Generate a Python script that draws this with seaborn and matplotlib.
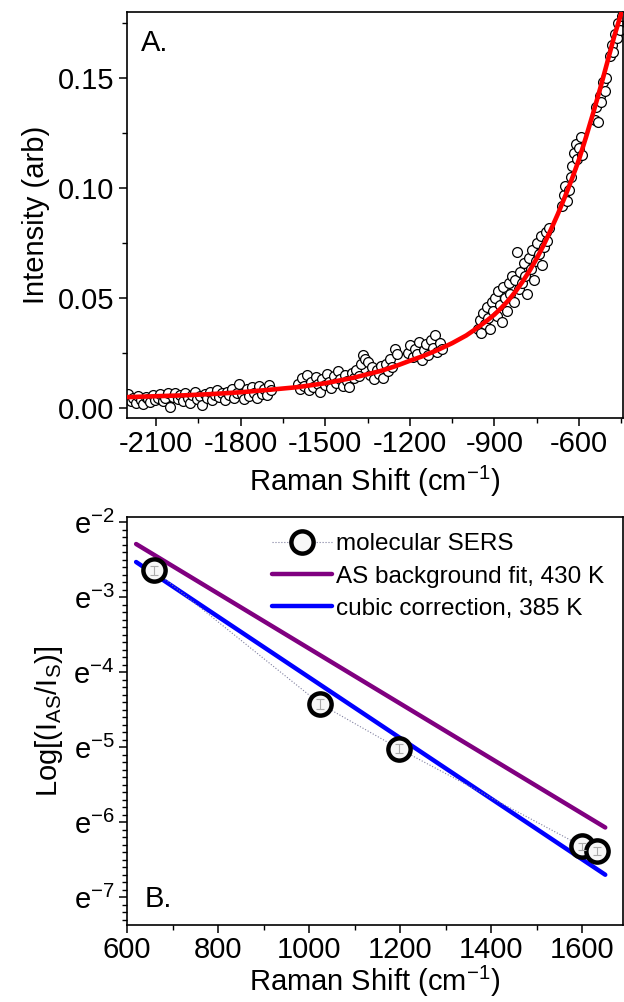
import numpy as np
import pandas as pd
import matplotlib
matplotlib.use('Agg')
import matplotlib.pyplot as plt
import matplotlib.ticker as mticker
import seaborn as sns

# ---------------- Panel A data ----------------
shift_a = [
    -2198, -2190, -2181, -2172, -2163, -2155, -2146, -2137, -2128, -2120,
    -2111, -2102, -2093, -2085, -2076, -2067, -2058, -2050, -2041, -2032,
    -2023, -2015, -2006, -1997, -1988, -1980, -1971, -1962, -1953, -1945,
    -1936, -1927, -1918, -1910, -1901, -1892, -1883, -1875, -1866, -1857,
    -1848, -1840, -1831, -1822, -1813, -1805, -1796, -1787, -1778, -1770,
    -1761, -1752, -1743, -1735, -1726, -1717, -1708, -1700, -1692,
    -1598, -1590, -1582, -1574, -1566, -1558, -1550, -1542, -1534, -1526,
    -1518, -1510, -1502, -1494, -1486, -1478, -1470, -1462, -1454, -1446,
    -1438, -1430, -1422, -1414, -1406, -1398, -1390, -1382, -1374, -1366,
    -1358, -1350, -1342, -1334, -1326, -1318, -1310, -1302, -1294, -1286,
    -1278, -1270, -1262, -1254, -1246,
    -1206, -1198, -1190, -1182, -1174, -1166, -1158, -1150, -1142, -1134,
    -1126, -1118, -1110, -1102, -1094, -1086,
    -958, -952, -946, -940, -934, -928, -922, -916, -910, -904,
    -898, -892, -886, -880, -874, -868, -862, -856, -850, -844,
    -838, -832, -826, -820, -814, -808, -802, -796, -790, -784,
    -778, -772, -766, -760, -754, -748, -742, -736, -730, -724,
    -718, -712, -706,
    -660, -654, -648, -642, -636, -630, -624, -618, -612, -606,
    -600, -594, -588,
    -545, -539, -533, -527, -521, -515, -509, -503,
    -490, -484, -478, -472, -466, -460, -454, -448,
]
intensity_a = [
    0.0065, 0.0030, 0.0045, 0.0025, 0.0055, 0.0035, 0.0020, 0.0050, 0.0040, 0.0028,
    0.0058, 0.0035, 0.0048, 0.0063, 0.0030, 0.0045, 0.0068, 0.0005, 0.0052, 0.0070,
    0.0040, 0.0058, 0.0032, 0.0068, 0.0045, 0.0022, 0.0060, 0.0075, 0.0040, 0.0055,
    0.0015, 0.0065, 0.0048, 0.0072, 0.0038, 0.0060, 0.0082, 0.0050, 0.0068, 0.0035,
    0.0075, 0.0058, 0.0088, 0.0045, 0.0070, 0.0110, 0.0062, 0.0040, 0.0085, 0.0055,
    0.0095, 0.0070, 0.0045, 0.0100, 0.0065, 0.0088, 0.0058, 0.0105, 0.0080,
    0.0110, 0.0085, 0.0135, 0.0100, 0.0150, 0.0080, 0.0120, 0.0095, 0.0140, 0.0110,
    0.0072, 0.0130, 0.0105, 0.0155, 0.0120, 0.0090, 0.0145, 0.0115, 0.0170, 0.0130,
    0.0100, 0.0150, 0.0125, 0.0095, 0.0160, 0.0135, 0.0175, 0.0145, 0.0200, 0.0240,
    0.0225, 0.0210, 0.0150, 0.0185, 0.0130, 0.0175, 0.0155, 0.0190, 0.0135, 0.0200,
    0.0170, 0.0225, 0.0185, 0.0270, 0.0245,
    0.0250, 0.0285, 0.0230, 0.0270, 0.0245, 0.0300, 0.0220, 0.0265, 0.0290, 0.0240,
    0.0310, 0.0275, 0.0330, 0.0255, 0.0295, 0.0270,
    0.036, 0.040, 0.034, 0.043, 0.038, 0.046, 0.041, 0.036, 0.048, 0.044,
    0.050, 0.042, 0.053, 0.047, 0.039, 0.055, 0.050, 0.044, 0.057, 0.052,
    0.060, 0.048, 0.058, 0.071, 0.054, 0.062, 0.057, 0.066, 0.060, 0.052,
    0.068, 0.063, 0.072, 0.058, 0.067, 0.075, 0.070, 0.078, 0.065, 0.073,
    0.080, 0.076, 0.082,
    0.092, 0.097, 0.101, 0.094, 0.099, 0.105, 0.110, 0.116, 0.120, 0.113,
    0.118, 0.123, 0.115,
    0.131, 0.137, 0.130, 0.142, 0.139, 0.148, 0.144, 0.150,
    0.160, 0.165, 0.162, 0.170, 0.168, 0.175, 0.172, 0.178,
]
fit_shift = [-2200, -2100, -2000, -1900, -1800, -1700, -1600, -1500, -1400,
             -1300, -1250, -1200, -1150, -1100, -1050, -1000, -975, -950, -925,
             -900, -875, -850, -825, -800, -775, -750, -725, -700,
             -675, -650, -625, -600, -575, -550, -525, -500, -475, -444]
fit_intensity = [0.0050, 0.0054, 0.0058, 0.0064, 0.0072, 0.0083, 0.0095, 0.0113,
                 0.0138, 0.0170, 0.0191, 0.0215, 0.0238, 0.0265, 0.0295, 0.0330,
                 0.0352, 0.0375, 0.0399, 0.0425, 0.0456, 0.0490, 0.0530, 0.0575,
                 0.0625, 0.0680, 0.0742, 0.0810, 0.0882, 0.0960, 0.1042, 0.1130,
                 0.1232, 0.1340, 0.1452, 0.1570, 0.1690, 0.1820]

# ---------------- Panel B data ----------------
sers_shift = [659, 1024, 1198, 1600, 1633]
sers_log = [-2.64, -4.42, -5.02, -6.32, -6.38]
sers_err = [0.06, 0.07, 0.06, 0.05, 0.05]
bg_shift = [620, 1651]
bg_log = [-2.29, -6.07]
cubic_shift = [620, 1651]
cubic_log = [-2.53, -6.70]

# ---------------- Style ----------------
sns.set_style('ticks')
plt.rcParams['font.family'] = ['Liberation Sans', 'DejaVu Sans']
plt.rcParams['mathtext.fontset'] = 'custom'
plt.rcParams['mathtext.rm'] = 'Liberation Sans'
plt.rcParams['mathtext.it'] = 'Liberation Sans:italic'
plt.rcParams['mathtext.default'] = 'regular'
plt.rcParams['axes.unicode_minus'] = False
for k in ('text.color', 'axes.labelcolor', 'xtick.color', 'ytick.color',
          'axes.edgecolor'):
    plt.rcParams[k] = 'black'

FS = 21
fig = plt.figure(figsize=(6.24, 10.02), dpi=100)
ax1 = fig.add_axes([127/624, 1-418/1002, 496/624, 406/1002])
ax2 = fig.add_axes([127/624, 1-925/1002, 496/624, 408/1002])

# ---- Panel A ----
dfa = pd.DataFrame({'shift': shift_a, 'intensity': intensity_a})
sns.scatterplot(data=dfa, x='shift', y='intensity', ax=ax1, marker='o', s=50,
                color='white', edgecolor='black', linewidth=0.9, zorder=2)
dff = pd.DataFrame({'shift': fit_shift, 'intensity': fit_intensity})
sns.lineplot(data=dff, x='shift', y='intensity', ax=ax1, color='#ff0000',
             lw=3.3, zorder=3, estimator=None, sort=False)
ax1.set_xlim(-2203, -444)
ax1.set_ylim(-0.0045, 0.18)
ax1.xaxis.set_major_locator(mticker.MultipleLocator(300))
ax1.xaxis.set_minor_locator(mticker.MultipleLocator(150))
ax1.yaxis.set_major_locator(mticker.MultipleLocator(0.05))
ax1.yaxis.set_minor_locator(mticker.MultipleLocator(0.025))
ax1.yaxis.set_major_formatter(mticker.FormatStrFormatter('%.2f'))
ax1.set_xlabel('Raman Shift (cm$^{-1}$)', fontsize=FS, labelpad=4)
ax1.set_ylabel('Intensity (arb)', fontsize=FS, labelpad=6)
ax1.text(0.028, 0.924, 'A.', transform=ax1.transAxes, fontsize=FS,
         ha='left', va='center')

# ---- Panel B ----
dfb = pd.DataFrame({'shift': sers_shift, 'val': np.exp(sers_log)})
sns.lineplot(data=dfb, x='shift', y='val', ax=ax2, color='#7f7f9f', lw=0.8,
             linestyle=':', marker='o', ms=16, mec='black', mfc='#f7f7f7',
             mew=3.2, zorder=4, label='molecular SERS', estimator=None)
lo = np.exp(sers_log) - np.exp(np.array(sers_log) - np.array(sers_err))
hi = np.exp(np.array(sers_log) + np.array(sers_err)) - np.exp(sers_log)
ax2.errorbar(sers_shift, np.exp(sers_log), yerr=[lo, hi], fmt='none',
             ecolor='#aaaaaa', elinewidth=0.8, capsize=3, capthick=0.8, zorder=5)
dbg = pd.DataFrame({'shift': bg_shift, 'val': np.exp(bg_log)})
sns.lineplot(data=dbg, x='shift', y='val', ax=ax2, color='#800080', lw=3.2,
             zorder=3, label='AS background fit, 430 K', estimator=None)
dcu = pd.DataFrame({'shift': cubic_shift, 'val': np.exp(cubic_log)})
sns.lineplot(data=dcu, x='shift', y='val', ax=ax2, color='#0000ff', lw=3.2,
             zorder=3, label='cubic correction, 385 K', estimator=None)

ax2.set_yscale('log', base=np.e)
ax2.set_xlim(600, 1690)
ax2.set_ylim(np.exp(-7.37), np.exp(-1.93))
ax2.xaxis.set_major_locator(mticker.MultipleLocator(200))
ax2.xaxis.set_minor_locator(mticker.MultipleLocator(100))
ax2.yaxis.set_major_locator(mticker.FixedLocator(np.exp(np.arange(-7, -1))))
ax2.yaxis.set_minor_locator(mticker.FixedLocator(np.exp(np.arange(-7.3, -1.9, 0.1))))
ax2.yaxis.set_major_formatter(mticker.FuncFormatter(
    lambda v, p: 'e$^{%d}$' % int(round(np.log(v)))))
ax2.yaxis.set_minor_formatter(mticker.NullFormatter())
ax2.set_xlabel('Raman Shift (cm$^{-1}$)', fontsize=FS, labelpad=0)
ax2.set_ylabel('Log[(I$_{AS}$/I$_{S}$)]', fontsize=FS, labelpad=6)
ax2.text(0.036, 0.064, 'B.', transform=ax2.transAxes, fontsize=FS,
         ha='left', va='center')
leg = ax2.legend(loc='upper right', bbox_to_anchor=(0.962, 0.96), frameon=False,
                 fontsize=17.5, handlelength=2.5, handletextpad=0.15,
                 labelspacing=0.42, borderpad=0, borderaxespad=0)

for ax in (ax1, ax2):
    ax.tick_params(axis='both', which='major', direction='out', length=6,
                   width=1.1, labelsize=FS, pad=3, top=False, right=False,
                   colors='black')
    ax.tick_params(axis='both', which='minor', direction='out', length=3.5,
                   width=1.0, top=False, right=False, colors='black')
    for s in ax.spines.values():
        s.set_visible(True)
        s.set_linewidth(1.2)
        s.set_color('black')
ax2.tick_params(axis='x', which='major', pad=2)

fig.savefig('out.png', dpi=100)
